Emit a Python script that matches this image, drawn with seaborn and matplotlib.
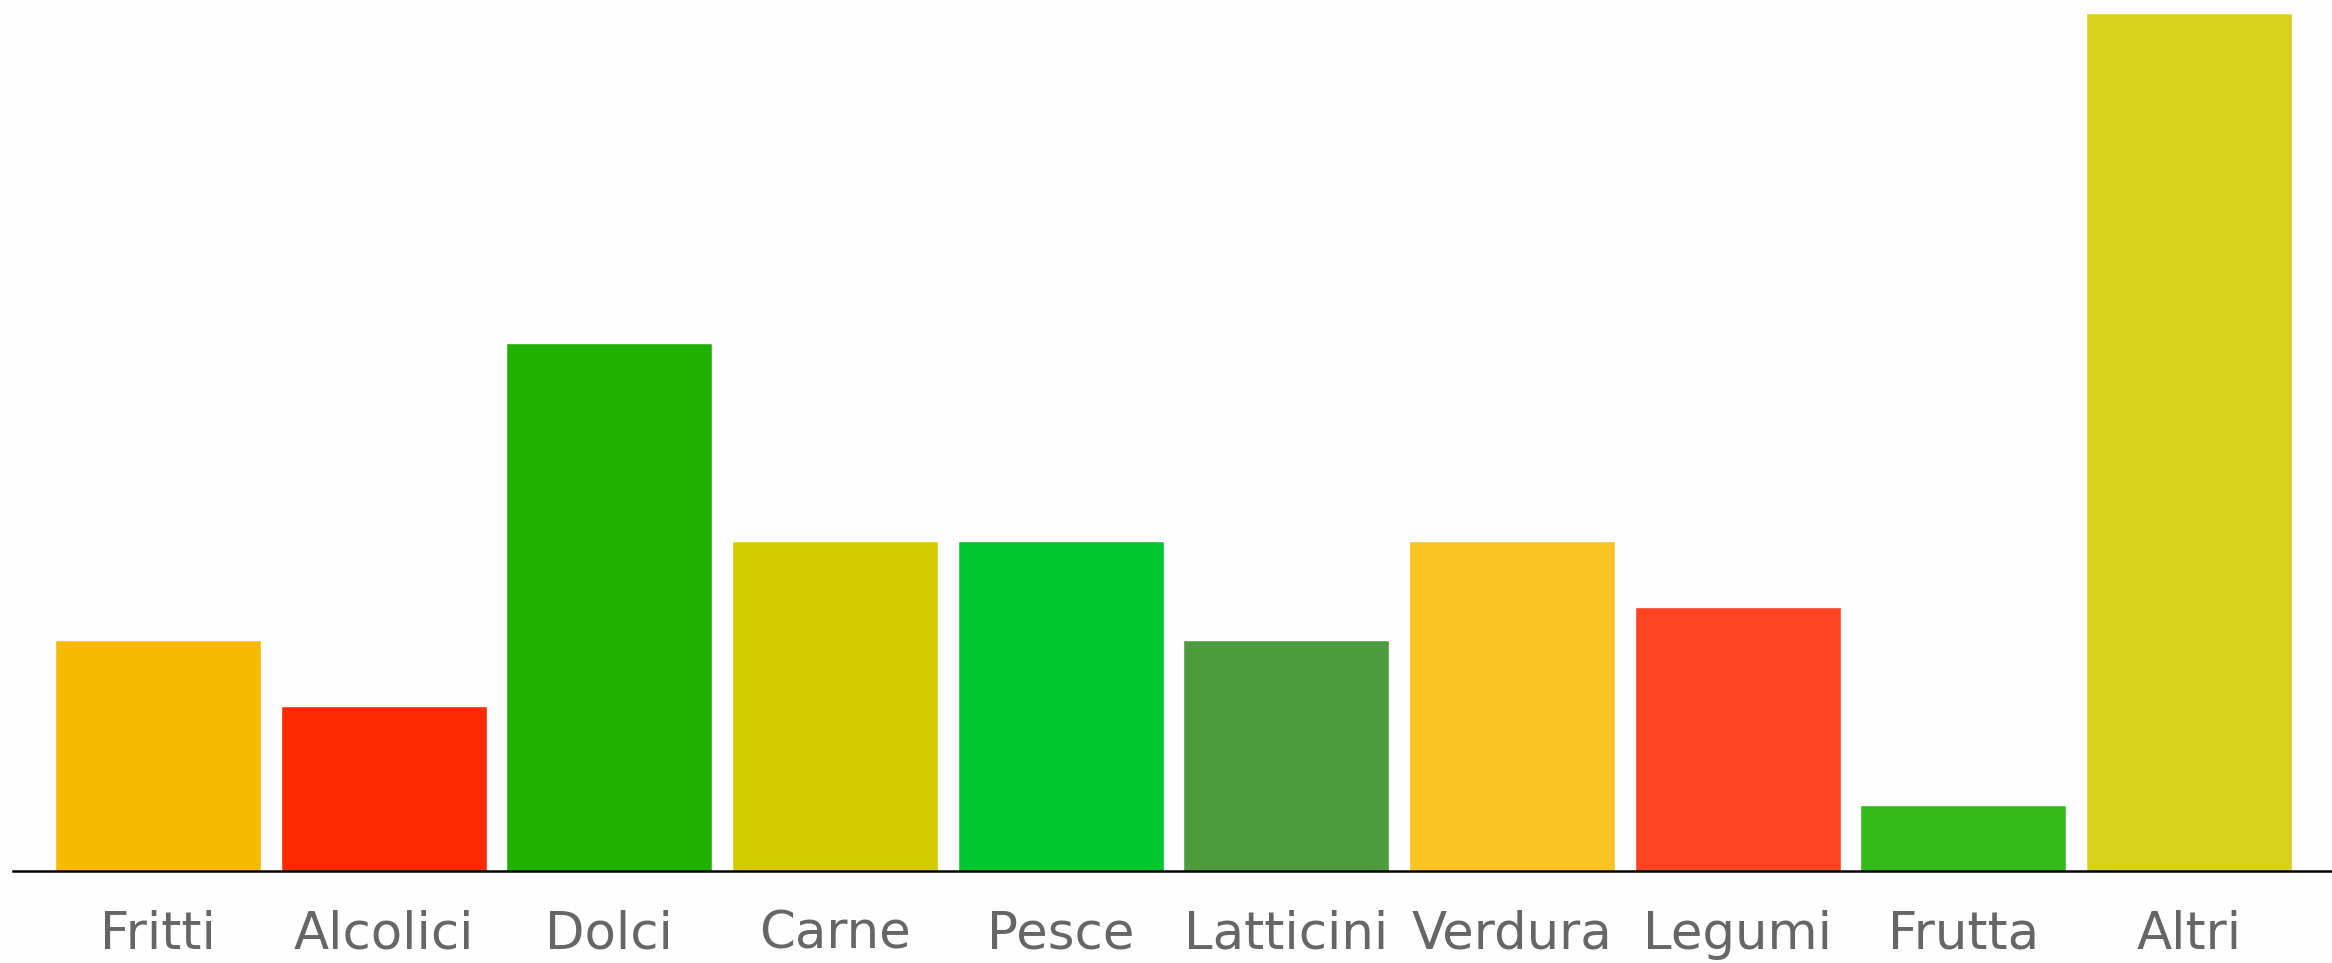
import matplotlib
matplotlib.use("Agg")
import matplotlib.pyplot as plt
import pandas as pd
import seaborn as sns

categories = ["Fritti", "Alcolici", "Dolci", "Carne", "Pesce",
              "Latticini", "Verdura", "Legumi", "Frutta", "Altri"]
values = [7, 5, 16, 10, 10, 7, 10, 8, 2, 26]
colors = ["#F7BA00", "#FF2A00", "#1FB000", "#D2CC00", "#00C72F",
          "#4C9C3E", "#FAC423", "#FF4424", "#35BA1C", "#D8D21E"]

sns.set_theme(style="white")
plt.rcParams["font.family"] = ["DejaVu Sans"]

df = pd.DataFrame({"categoria": categories, "valore": values})

fig = plt.figure(figsize=(23.32, 9.63), dpi=100, facecolor="#FEFEFE")
ax = fig.add_axes([13 / 2332, 92 / 963, 1 - 13 / 2332, 871 / 963])
ax.set_facecolor("#FEFEFE")

sns.barplot(data=df, x="categoria", y="valore", hue="categoria",
            palette=dict(zip(categories, colors)), width=0.913,
            legend=False, ax=ax, saturation=1)

ax.set_xlim(-0.643, 9.634)
ax.set_ylim(0, 26 * 871 / 858)
ax.set_xlabel("")
ax.set_ylabel("")
ax.set_yticks([])
for side in ["top", "right", "left"]:
    ax.spines[side].set_visible(False)
ax.spines["bottom"].set_color("black")
ax.spines["bottom"].set_linewidth(1.8)
ax.tick_params(axis="x", length=0, pad=28, labelsize=37, labelcolor="#666666")

fig.savefig("out.png", dpi=100, facecolor=fig.get_facecolor())
